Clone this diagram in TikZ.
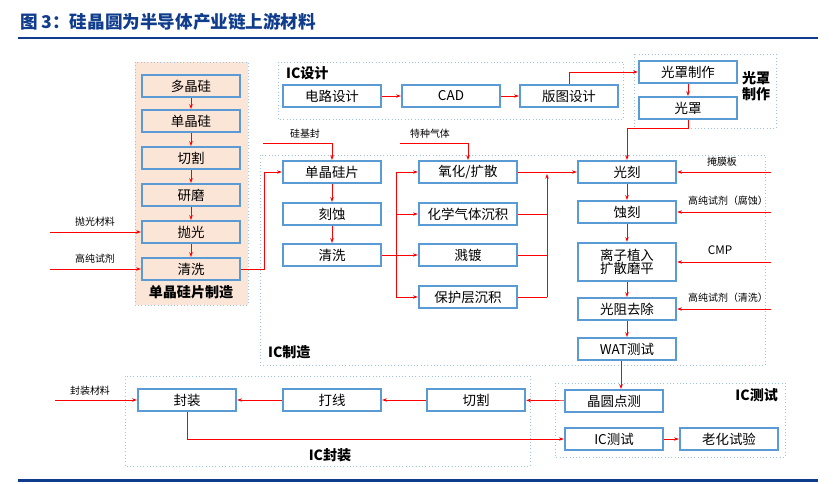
\documentclass[tikz,border=0pt]{standalone}
\usepackage{fontspec}
\setmainfont{Noto Sans CJK SC}
\usetikzlibrary{arrows.meta}
\definecolor{boxblue}{HTML}{5B9BD5}
\definecolor{panelblue}{HTML}{9DC3E6}
\definecolor{titleblue}{HTML}{0F3C8C}
\definecolor{peach}{HTML}{FBE5D6}
\tikzset{
  box/.style={draw=boxblue,line width=1.8pt,fill=white,minimum width=2.95cm,minimum height=0.66cm,inner sep=1pt,font=\fontsize{11.5}{13}\selectfont},
  panel/.style={draw=panelblue,dotted,line width=0.8pt},
  plabel/.style={font=\bfseries\fontsize{12}{14}\selectfont},
  inlabel/.style={font=\fontsize{8.5}{10}\selectfont},
  flow/.style={red,line width=0.6pt,-{Stealth[length=4pt,width=3pt]}},
  link/.style={red,line width=0.6pt}
}
\begin{document}
\begin{tikzpicture}[x=0.03cm,y=-0.03cm]
\useasboundingbox (0,0) rectangle (835,484);
% title
\node[anchor=west,text=titleblue,font=\bfseries\fontsize{15}{17}\selectfont] (title) at (16,22) {图 3：硅晶圆为半导体产业链上游材料};
\fill[titleblue] (18,37) rectangle (818,39.5);
\fill[titleblue] (18,479) rectangle (818,481.5);

% panels
\draw[panel,fill=peach] (135,62) rectangle (248,305);
\draw[panel] (278,62) rectangle (623,119);
\draw[panel] (634,54) rectangle (776,128);
\draw[panel] (260,155) rectangle (765,365);
\draw[panel] (555,383) rectangle (785,457);
\draw[panel] (125,376) rectangle (530,466);
\node[plabel] (lwafer) at (191,292) {单晶硅片制造};
\node[plabel,anchor=west] (ldesign) at (282,73) {IC设计};
\node[plabel,align=left,anchor=west] (lmask) at (738,86) {光罩\\制作};
\node[plabel,anchor=west] (lfab) at (264,352) {IC制造};
\node[plabel,anchor=east] (ltest) at (782,395) {IC测试};
\node[plabel] (lpack) at (330,455) {IC封装};

% wafer making
\node[box,fill=peach] (w1) at (191,86) {多晶硅};
\node[box,fill=peach] (w2) at (191,121) {单晶硅};
\node[box,fill=peach] (w3) at (191,158) {切割};
\node[box,fill=peach] (w4) at (191,195) {研磨};
\node[box,fill=peach] (w5) at (191,232) {抛光};
\node[box,fill=peach] (w6) at (191,269) {清洗};
\draw[flow] (w1) -- (w2);
\draw[flow] (w2) -- (w3);
\draw[flow] (w3) -- (w4);
\draw[flow] (w4) -- (w5);
\draw[flow] (w5) -- (w6);
\coordinate (inpolish) at (50,232);
\coordinate (inclean) at (50,269);
\node[inlabel] (tpolish) at (95,222) {抛光材料};
\node[inlabel] (tclean) at (95,259) {高纯试剂};
\draw[flow] (inpolish) -- (w5);
\draw[flow] (inclean) -- (w6);

% IC design
\node[box] (d1) at (332,96) {电路设计};
\node[box] (d2) at (451,96) {CAD};
\node[box] (d3) at (569,96) {版图设计};
\draw[flow] (d1) -- (d2);
\draw[flow] (d2) -- (d3);
\node[box] (m1) at (688,72) {光罩制作};
\node[box] (m2) at (688,108) {光罩};
\draw[flow] (d3.north) |- (m1.west);
\draw[flow] (m1) -- (m2);

% IC fab
\node[box] (f1) at (332,172) {单晶硅片};
\node[box] (f2) at (332,214) {刻蚀};
\node[box] (f3) at (332,255) {清洗};
\draw[flow] (f1) -- (f2);
\draw[flow] (f2) -- (f3);
\draw[flow] (w6.east) -- (264,269) |- (f1.west);
\coordinate (insub) at (263,143);
\node[inlabel] (tsub) at (305,134) {硅基封};
\draw[flow] (insub) -| (f1.north);

\node[box] (c1) at (468,172) {氧化/扩散};
\node[box] (c2) at (468,214) {化学气体沉积};
\node[box] (c3) at (468,255) {溅镀};
\node[box] (c4) at (468,297) {保护层沉积};
\coordinate (split) at (396,255);
\draw[link] (f3.east) -- (split);
\draw[flow] (split) |- (c1.west);
\draw[flow] (split) |- (c2.west);
\draw[flow] (split) -- (c3.west);
\draw[flow] (split) |- (c4.west);
\coordinate (ingas) at (400,143);
\node[inlabel] (tgas) at (430,134) {特种气体};
\draw[flow] (ingas) -| (c1.north);

\node[box] (p1) at (627,172) {光刻};
\node[box] (p2) at (627,212) {蚀刻};
\node[box,minimum height=1.15cm,align=center] (p3) at (627,262) {离子植入\\[-2pt]扩散磨平};
\node[box] (p4) at (627,309) {光阻去除};
\node[box] (p5) at (627,349) {WAT测试};
\coordinate (join) at (547,297);
\draw[flow] (c1.east) -- (p1.west);
\draw[link] (c2.east) -- (547,214);
\draw[link] (c3.east) -- (547,255);
\draw[link] (c4.east) -- (join);
\draw[flow] (join) -- (547,174);
\draw[flow] (m2.south) -- (688,128) -| (p1.north);
\draw[flow] (p1) -- (p2);
\draw[flow] (p2) -- (p3);
\draw[flow] (p3) -- (p4);
\draw[flow] (p4) -- (p5);
\coordinate (inmask) at (771,172);
\coordinate (inetch) at (771,212);
\coordinate (incmp) at (771,262);
\coordinate (inwash) at (771,309);
\node[inlabel] (tmask) at (722,162) {掩膜板};
\node[inlabel] (tetch) at (728,201) {高纯试剂（腐蚀）};
\node[inlabel,font=\fontsize{10}{12}\selectfont] (tcmp) at (720,250) {CMP};
\node[inlabel] (twash) at (728,298) {高纯试剂（清洗）};
\draw[flow] (inmask) -- (p1.east);
\draw[flow] (inetch) -- (p2.east);
\draw[flow] (incmp) -- (p3.east);
\draw[flow] (inwash) -- (p4.east);

% IC test and packaging
\node[box] (t1) at (614,401) {晶圆点测};
\node[box] (t2) at (614,439) {IC测试};
\node[box] (t3) at (729,439) {老化试验};
\draw[flow] (p5.south -| 621,0) -- (t1.north -| 621,0);
\draw[flow] (t2) -- (t3);
\node[box] (k1) at (476,400) {切割};
\node[box] (k2) at (332,400) {打线};
\node[box] (k3) at (187,400) {封装};
\draw[flow] (t1) -- (k1);
\draw[flow] (k1) -- (k2);
\draw[flow] (k2) -- (k3);
\coordinate (inpack) at (55,400);
\node[inlabel] (tpack) at (90,391) {封装材料};
\draw[flow] (inpack) -- (k3.west);
\draw[flow] (k3.south) |- (t2.west);
\end{tikzpicture}
\end{document}
